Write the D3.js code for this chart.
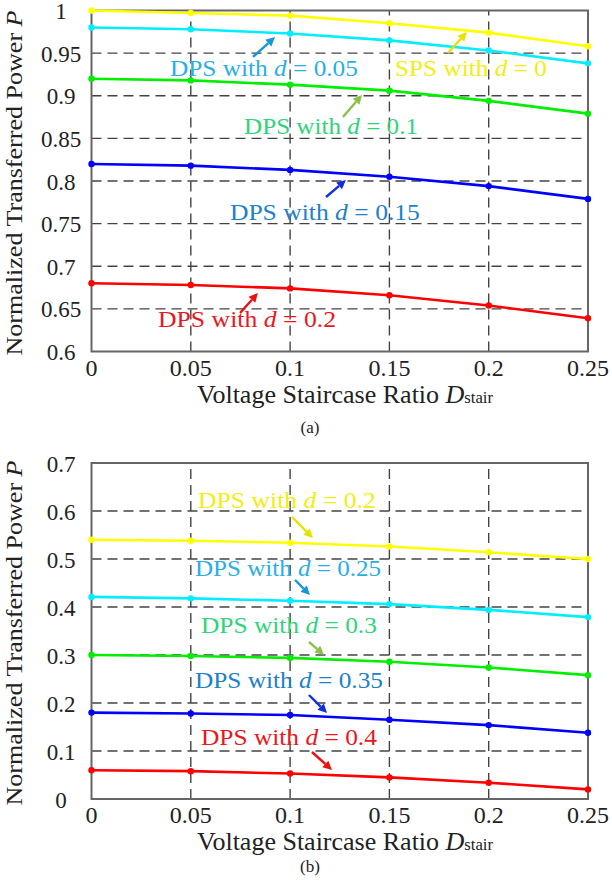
<!DOCTYPE html>
<html><head><meta charset="utf-8">
<script src="https://cdn.jsdelivr.net/npm/d3@7"></script>
<style>body{margin:0;background:#fff}svg{display:block}text{font-family:"Liberation Serif","Times New Roman",serif}</style>
</head><body>
<svg id="c" width="612" height="884"></svg>
<script>
// ---- data ----
const xVals = [0, 0.05, 0.1, 0.15, 0.2, 0.25];
const xTickLabels = ["0", "0.05", "0.1", "0.15", "0.2", "0.25"];
const yTicksA = [0.6, 0.65, 0.7, 0.75, 0.8, 0.85, 0.9, 0.95, 1];
const yTickLabelsA = ["0.6", "0.65", "0.7", "0.75", "0.8", "0.85", "0.9", "0.95", "1"];
const yTicksB = [0, 0.1, 0.2, 0.3, 0.4, 0.5, 0.6, 0.7];
const yTickLabelsB = ["0", "0.1", "0.2", "0.3", "0.4", "0.5", "0.6", "0.7"];

const spsD0   = [1.000, 0.997, 0.994, 0.985, 0.974, 0.958];
const dpsD005 = [0.980, 0.978, 0.973, 0.965, 0.953, 0.938];
const dpsD01  = [0.920, 0.918, 0.913, 0.906, 0.894, 0.879];
const dpsD015 = [0.820, 0.818, 0.813, 0.805, 0.794, 0.779];
const dpsD02a = [0.680, 0.678, 0.674, 0.666, 0.654, 0.639];

const dpsD02b = [0.540, 0.538, 0.534, 0.526, 0.514, 0.500];
const dpsD025 = [0.421, 0.418, 0.413, 0.406, 0.394, 0.379];
const dpsD03  = [0.300, 0.298, 0.294, 0.286, 0.274, 0.258];
const dpsD035 = [0.180, 0.178, 0.175, 0.165, 0.154, 0.138];
const dpsD04  = [0.060, 0.058, 0.053, 0.045, 0.034, 0.020];

const labelsA = ["SPS", "DPS", "DPS", "DPS", "DPS"];
const dValsA = ["0", "0.05", "0.1", "0.15", "0.2"];
const labelsB = ["DPS", "DPS", "DPS", "DPS", "DPS"];
const dValsB = ["0.2", "0.25", "0.3", "0.35", "0.4"];

// ---- drawing ----
const svg = d3.select("#c");
const lineColors = ["#ffff00", "#00eeff", "#00ee00", "#0000ff", "#ff0000"];

function panel(cfg) {
  const x = d3.scaleLinear().domain([0, 0.25]).range([91.5, 588]);
  const y = d3.scaleLinear().domain(cfg.yDomain).range(cfg.yRange);
  const g = svg.append("g");
  const [yb, yt] = cfg.yRange;
  // grid
  g.selectAll(".hg").data(cfg.yTicks.slice(1, -1)).enter().append("line")
    .attr("x1", x(0)).attr("x2", x(0.25)).attr("y1", d => y(d)).attr("y2", d => y(d))
    .attr("stroke", "#444").attr("stroke-width", 1.4).attr("stroke-dasharray", "10,6");
  g.selectAll(".vg").data(xVals.slice(1, -1)).enter().append("line")
    .attr("y1", yb).attr("y2", yt).attr("x1", d => x(d)).attr("x2", d => x(d))
    .attr("stroke", "#444").attr("stroke-width", 1.4).attr("stroke-dasharray", "10,6");
  // box
  g.append("rect").attr("x", x(0)).attr("y", yt).attr("width", x(0.25) - x(0)).attr("height", yb - yt)
    .attr("fill", "none").attr("stroke", "#666").attr("stroke-width", 2);
  // tick labels
  g.selectAll(".yl").data(cfg.yTicks).enter().append("text")
    .attr("x", 61).attr("y", d => y(d) + 8.5).attr("text-anchor", "middle")
    .attr("font-size", 23).attr("fill", "#222").text((d, i) => cfg.yLabels[i]);
  g.selectAll(".xl").data(xVals).enter().append("text")
    .attr("x", d => x(d)).attr("y", yb + 24).attr("text-anchor", "middle")
    .attr("font-size", 24).attr("fill", "#222").text((d, i) => xTickLabels[i]);
  // axis titles
  const xt = g.append("text").attr("x", 345).attr("y", yb + 51).attr("text-anchor", "middle")
    .attr("font-size", 25).attr("fill", "#222").attr("textLength", 296).attr("lengthAdjust", "spacingAndGlyphs");
  xt.append("tspan").text("Voltage Staircase Ratio ");
  xt.append("tspan").attr("font-style", "italic").text("D");
  xt.append("tspan").attr("font-size", 16).text("stair");
  const ym = (yb + yt) / 2 + 2;
  const ytl = g.append("text").attr("transform", `translate(22,${ym}) rotate(-90)`)
    .attr("text-anchor", "middle").attr("font-size", 24).attr("fill", "#222")
    .attr("textLength", cfg.ytLen).attr("lengthAdjust", "spacingAndGlyphs");
  ytl.append("tspan").text("Normalized Transferred Power ");
  ytl.append("tspan").attr("font-style", "italic").text("P");
  g.append("text").attr("x", 310).attr("y", yb + cfg.capOff).attr("text-anchor", "middle")
    .attr("font-size", 17).attr("fill", "#222").text(cfg.caption);
  // lines
  const line = d3.line().x((d, i) => x(xVals[i])).y(d => y(d));
  cfg.series.forEach((s, k) => {
    g.append("path").datum(s).attr("d", line).attr("fill", "none")
      .attr("stroke", lineColors[k]).attr("stroke-width", 2.6);
    g.selectAll(".m" + k).data(s).enter().append("circle")
      .attr("cx", (d, i) => x(xVals[i])).attr("cy", d => y(d)).attr("r", 3.2)
      .attr("fill", lineColors[k]);
  });
  // annotations
  cfg.annos.forEach((a, k) => {
    const t = g.append("text").attr("x", x(a.tx)).attr("y", y(a.ty) + 8)
      .attr("font-size", 24).attr("fill", a.tc).attr("textLength", a.tl).attr("lengthAdjust", "spacingAndGlyphs");
    t.append("tspan").text(cfg.labels[k] + " with ");
    t.append("tspan").attr("font-style", "italic").text("d");
    t.append("tspan").text(" = " + cfg.dVals[k]);
    const x1 = x(a.a[0]), y1 = y(a.a[1]), x2 = x(a.a[2]), y2 = y(a.a[3]);
    const ang = Math.atan2(y2 - y1, x2 - x1);
    const L = 9, W = 4.5;
    const bx = x2 - L * Math.cos(ang), by = y2 - L * Math.sin(ang);
    g.append("line").attr("x1", x1).attr("y1", y1).attr("x2", bx).attr("y2", by)
      .attr("stroke", a.ac).attr("stroke-width", 2.4);
    g.append("path").attr("d", `M${x2},${y2}L${bx - W * Math.sin(ang)},${by + W * Math.cos(ang)}L${bx + W * Math.sin(ang)},${by - W * Math.cos(ang)}Z`)
      .attr("fill", a.ac);
  });
}

panel({
  yDomain: [0.6, 1], yRange: [351.5, 10.5], yTicks: yTicksA, yLabels: yTickLabelsA,
  caption: "(a)", capOff: 81, ytLen: 345,
  series: [spsD0, dpsD005, dpsD01, dpsD015, dpsD02a],
  labels: labelsA, dVals: dValsA,
  annos: [
    {tx: 0.1528, ty: 0.9326, tc: "#f2ee10", ac: "#e8e000", tl: 152, a: [0.1795, 0.9501, 0.189, 0.9748]},
    {tx: 0.0395, ty: 0.9326, tc: "#2aaee6", ac: "#1a96d8", tl: 188, a: [0.0813, 0.9455, 0.0924, 0.9689]},
    {tx: 0.0768, ty: 0.8645, tc: "#2ed47a", ac: "#8cc04a", tl: 174, a: [0.1266, 0.8751, 0.1362, 0.9009]},
    {tx: 0.0697, ty: 0.7636, tc: "#2080c8", ac: "#1030e0", tl: 190, a: [0.1181, 0.7812, 0.1281, 0.8012]},
    {tx: 0.0335, ty: 0.6381, tc: "#ee1520", ac: "#ee1010", tl: 178, a: [0.0748, 0.6452, 0.0838, 0.6686]}
  ]
});

panel({
  yDomain: [0, 0.7], yRange: [799, 463], yTicks: yTicksB, yLabels: yTickLabelsB,
  caption: "(b)", capOff: 73, ytLen: 345,
  series: [dpsD02b, dpsD025, dpsD03, dpsD035, dpsD04],
  labels: labelsB, dVals: dValsB,
  annos: [
    {tx: 0.0536, ty: 0.6229, tc: "#f2ee10", ac: "#e8e000", tl: 178, a: [0.101, 0.5875, 0.1115, 0.5438]},
    {tx: 0.0521, ty: 0.4813, tc: "#2aaee6", ac: "#1a96d8", tl: 186, a: [0.1025, 0.4563, 0.110, 0.425]},
    {tx: 0.0551, ty: 0.3625, tc: "#2ed47a", ac: "#8cc04a", tl: 176, a: [0.1095, 0.3271, 0.1171, 0.300]},
    {tx: 0.0521, ty: 0.2479, tc: "#2080c8", ac: "#1030e0", tl: 188, a: [0.1095, 0.2167, 0.1186, 0.1792]},
    {tx: 0.0551, ty: 0.1292, tc: "#ee1520", ac: "#ee1010", tl: 176, a: [0.111, 0.0979, 0.1211, 0.0604]}
  ]
});
</script>
</body></html>
